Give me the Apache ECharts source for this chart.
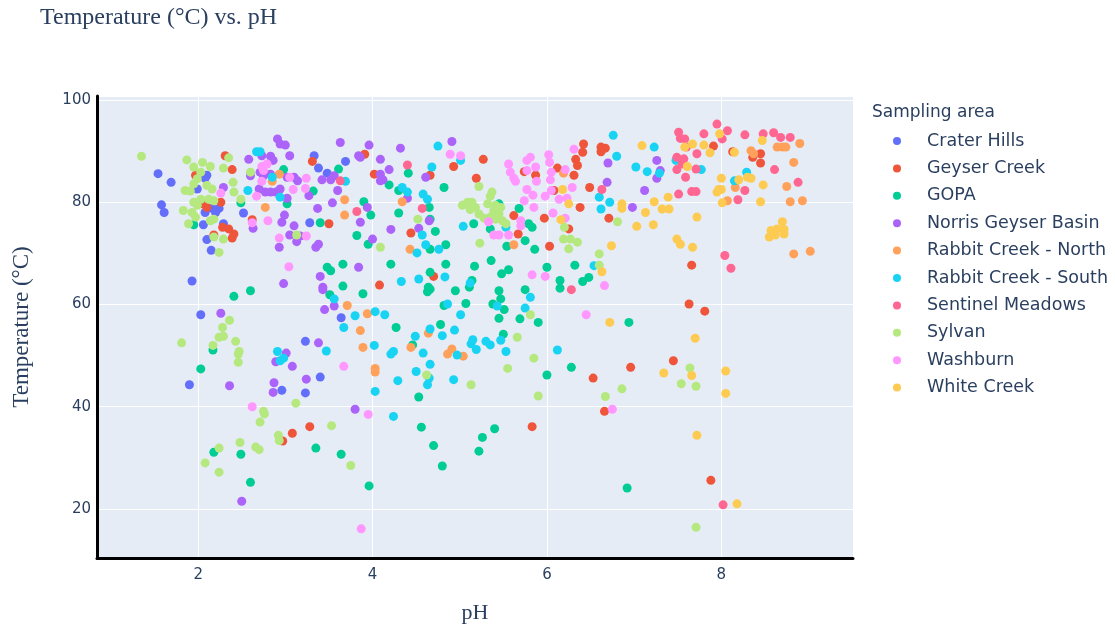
<!DOCTYPE html>
<html>
<head>
<meta charset="utf-8">
<title>Temperature vs. pH</title>
<script src="https://cdn.jsdelivr.net/npm/echarts@6.0.0/dist/echarts.min.js"></script>
<style>
  html, body { margin: 0; padding: 0; background: #fff; }
  #chart { width: 1115px; height: 633px; }
</style>
</head>
<body>
<div id="chart"></div>
<script>
// Sampling areas, in legend / drawing order
const areas = [
  'Crater Hills', 'Geyser Creek', 'GOPA', 'Norris Geyser Basin',
  'Rabbit Creek - North', 'Rabbit Creek - South', 'Sentinel Meadows',
  'Sylvan', 'Washburn', 'White Creek'
];

// Samples per area as [pH, temperature °C]
const craterHills = [[1.54,85.6],[1.69,83.9],[1.58,79.5],[1.61,78.0],[2.10,85.3],[2.08,84.7],[1.99,82.6],[2.07,80.0],[2.16,78.8],[2.24,78.8],[2.20,78.0],[2.08,78.0],[2.52,77.9],[2.06,75.6],[2.29,75.8],[2.10,72.7],[2.15,70.6],[3.33,89.1],[3.38,86.7],[3.48,85.7],[3.69,88.0],[3.28,76.0],[1.93,64.6],[2.03,58.0],[1.90,44.3],[3.64,57.4],[3.23,52.8],[3.40,45.8],[2.96,43.2],[3.23,42.7]];

const geyserCreek = [[2.31,89.1],[2.39,86.4],[1.97,85.3],[2.05,79.7],[2.10,79.0],[2.26,80.0],[2.62,76.6],[2.28,75.1],[2.35,74.8],[2.41,73.8],[2.39,73.0],[2.18,73.6],[3.31,88.0],[3.50,75.8],[3.91,89.4],[4.02,85.5],[4.93,87.0],[5.27,88.4],[5.19,84.7],[4.66,85.3],[5.74,86.0],[5.87,85.3],[6.12,86.7],[6.42,91.4],[6.41,89.8],[6.33,88.4],[6.35,87.2],[6.31,85.3],[6.49,82.9],[6.08,82.3],[5.62,77.4],[5.97,76.9],[6.38,79.0],[6.25,74.8],[5.67,73.8],[4.44,74.0],[6.03,71.4],[6.62,90.8],[6.67,90.6],[6.62,89.9],[7.91,91.0],[8.13,89.9],[8.36,88.8],[8.45,89.5],[8.45,87.7],[6.71,76.9],[4.70,65.5],[4.08,63.8],[6.53,45.6],[7.66,67.7],[7.63,60.1],[7.81,58.7],[7.45,49.0],[6.96,47.7],[6.66,39.1],[2.97,33.3],[3.08,34.8],[3.28,36.1],[5.83,36.1],[7.88,25.6]];

const gopa = [[2.49,79.9],[1.95,75.6],[2.98,86.4],[3.02,79.7],[3.32,82.2],[3.61,86.5],[3.40,76.0],[4.41,85.7],[4.19,83.4],[4.30,82.3],[4.82,82.9],[3.90,80.1],[3.98,77.5],[4.30,77.9],[4.65,79.0],[4.66,76.7],[3.82,73.5],[3.95,71.8],[4.72,74.3],[4.66,70.8],[4.84,71.7],[5.16,75.8],[5.35,74.8],[5.45,79.7],[5.68,78.8],[5.79,75.8],[5.83,75.1],[5.75,72.5],[5.54,71.4],[5.86,70.8],[2.41,61.6],[2.60,62.7],[2.17,51.1],[2.03,47.4],[3.48,67.3],[3.52,66.6],[3.66,67.9],[3.66,63.6],[3.51,61.9],[4.21,67.9],[3.89,62.1],[4.66,66.3],[4.64,63.4],[4.66,63.0],[4.63,62.5],[4.84,67.9],[4.95,62.7],[5.17,67.5],[5.14,64.7],[5.11,63.4],[5.36,68.6],[5.56,66.8],[5.48,66.0],[5.07,60.2],[4.82,59.8],[5.45,62.7],[5.47,61.1],[5.38,60.1],[5.51,59.0],[5.45,57.3],[5.75,62.9],[5.69,57.2],[5.90,56.5],[6.00,67.3],[6.32,67.7],[6.15,64.7],[6.15,63.2],[6.41,64.5],[6.48,65.3],[4.27,55.5],[4.78,56.1],[4.46,52.1],[5.50,54.2],[6.00,46.2],[6.28,47.7],[4.53,41.9],[6.94,56.5],[2.18,31.1],[2.49,30.7],[2.60,25.2],[3.35,31.9],[3.64,30.7],[4.56,36.0],[4.70,32.4],[4.80,28.4],[3.96,24.5],[5.22,31.3],[5.26,34.0],[5.40,35.7],[6.92,24.1]];

const norrisGeyserBasin = [[2.91,92.4],[2.94,91.4],[3.00,91.2],[3.05,89.1],[3.63,91.7],[2.58,88.4],[2.73,89.1],[2.83,89.0],[2.86,88.2],[2.71,85.9],[2.75,85.2],[2.83,85.5],[2.60,85.2],[2.70,82.6],[2.77,82.0],[2.83,82.0],[2.89,82.0],[2.94,82.6],[3.02,84.9],[3.10,84.9],[3.14,84.2],[3.42,84.4],[3.52,84.4],[3.56,85.2],[3.60,82.3],[3.27,81.3],[3.02,80.8],[3.54,79.9],[3.37,78.8],[2.99,77.5],[2.96,76.1],[3.10,75.4],[2.63,74.9],[3.05,73.6],[3.17,73.4],[3.13,72.3],[2.93,71.2],[3.35,71.2],[3.38,71.8],[2.29,82.9],[3.96,91.2],[3.84,89.1],[3.86,88.8],[4.09,88.4],[4.32,90.6],[4.91,91.9],[4.19,86.4],[4.09,85.5],[4.12,84.4],[4.09,84.2],[4.61,84.9],[3.94,79.0],[3.86,76.1],[4.21,74.7],[4.65,76.4],[4.53,74.9],[4.00,72.8],[4.40,80.8],[6.70,87.7],[7.26,88.2],[7.30,86.2],[7.26,84.7],[6.69,83.9],[7.12,82.3],[6.98,79.0],[2.26,58.3],[2.98,64.1],[3.40,65.5],[3.43,63.4],[3.43,62.9],[3.45,59.0],[3.56,59.7],[3.38,52.5],[3.01,50.5],[2.89,48.8],[3.08,47.9],[3.24,45.4],[2.87,44.7],[2.86,42.8],[2.36,44.1],[3.84,67.3],[3.80,39.5],[2.50,21.5]];

const rabbitCreekNorth = [[2.93,85.5],[2.85,84.1],[2.77,79.0],[3.68,80.5],[3.68,77.5],[4.34,80.1],[4.43,70.8],[5.62,71.7],[6.19,85.7],[8.34,90.1],[8.37,89.5],[8.64,90.8],[8.70,90.8],[8.74,90.8],[8.90,91.5],[8.83,87.8],[8.75,83.1],[8.16,82.9],[8.07,80.3],[8.79,80.1],[8.93,80.3],[8.83,69.9],[9.02,70.4],[3.71,59.8],[3.94,58.2],[3.86,54.9],[3.89,51.6],[4.64,54.4],[4.44,51.6],[4.91,51.3],[4.86,50.3],[5.04,49.9],[4.03,47.5],[4.03,46.8]];

const rabbitCreekSouth = [[2.67,89.9],[2.71,89.9],[2.85,84.9],[2.57,82.3],[2.94,81.0],[3.69,84.1],[4.75,91.0],[5.01,88.2],[4.68,86.9],[4.34,82.9],[4.40,82.0],[4.58,81.6],[4.63,80.6],[4.57,73.6],[4.61,71.7],[4.76,70.8],[4.51,70.1],[5.04,75.3],[5.53,75.1],[6.60,81.0],[6.62,78.7],[6.76,93.1],[6.80,89.0],[7.23,90.8],[7.02,86.9],[7.15,86.0],[7.29,85.7],[7.48,88.2],[7.77,86.4],[8.29,85.9],[8.15,84.2],[6.72,80.0],[3.56,61.1],[3.67,55.5],[2.91,50.8],[2.94,49.0],[2.98,49.5],[3.47,50.9],[4.53,65.0],[4.33,64.5],[4.83,65.4],[5.12,64.2],[4.86,60.1],[5.01,58.0],[5.43,59.7],[5.75,59.3],[5.81,61.4],[3.80,57.8],[4.03,58.6],[4.14,58.0],[4.66,55.2],[4.49,53.8],[4.80,53.9],[4.94,55.0],[5.15,53.1],[5.13,52.3],[5.19,51.2],[5.30,52.8],[5.35,52.1],[5.47,53.0],[5.53,50.8],[4.02,52.0],[4.24,50.8],[4.21,50.3],[4.58,50.5],[4.66,48.3],[4.97,50.1],[4.50,46.9],[4.65,45.6],[4.63,44.3],[4.93,45.3],[4.29,45.1],[4.03,43.0],[6.12,51.1],[6.54,67.6],[4.24,38.1]];

const sentinelMeadows = [[3.63,84.2],[4.40,87.3],[3.82,78.2],[4.57,78.8],[6.63,82.5],[7.95,95.3],[7.51,93.7],[7.53,92.5],[7.58,92.4],[7.60,90.8],[7.49,88.8],[7.57,88.5],[7.72,89.5],[7.49,86.4],[7.59,84.9],[7.55,87.5],[7.80,93.4],[8.07,94.0],[8.01,92.4],[8.27,93.2],[8.48,93.4],[8.60,93.6],[8.68,92.7],[8.79,92.7],[7.71,86.5],[8.61,86.4],[8.88,83.9],[8.27,82.3],[7.66,82.1],[7.71,82.1],[7.51,81.6],[8.19,80.5],[6.28,62.9],[8.04,69.6],[8.11,67.1],[8.02,20.8]];

const sylvan = [[1.35,89.0],[1.87,88.3],[1.95,86.9],[2.05,87.8],[2.14,87.0],[2.03,85.9],[1.99,84.6],[1.95,83.6],[1.85,82.3],[1.91,82.2],[2.10,83.3],[2.16,82.6],[2.35,88.7],[2.29,86.7],[2.40,83.9],[2.41,82.0],[1.95,80.0],[1.99,79.4],[2.03,80.6],[2.12,80.6],[2.18,80.3],[1.83,78.4],[1.93,78.0],[1.97,77.1],[2.14,76.4],[2.18,76.7],[1.89,75.8],[2.49,80.6],[2.60,85.9],[2.29,72.8],[2.18,73.2],[2.24,70.2],[3.13,73.6],[5.22,83.1],[5.37,82.0],[5.35,81.2],[5.03,79.4],[5.09,80.0],[5.14,80.0],[5.18,79.0],[5.12,78.6],[5.32,79.7],[5.41,79.4],[5.47,79.0],[5.39,78.4],[5.45,77.7],[5.35,77.1],[5.41,76.7],[5.49,76.4],[5.53,75.8],[5.22,77.7],[5.28,76.9],[4.52,76.7],[5.23,72.0],[4.09,71.2],[6.20,75.1],[6.19,72.8],[6.27,72.8],[6.35,72.2],[6.25,70.9],[6.60,69.9],[6.81,76.2],[1.81,52.5],[2.36,56.9],[2.28,55.5],[2.24,53.6],[2.29,53.8],[2.17,52.0],[2.43,52.8],[2.47,50.8],[2.46,50.3],[2.46,48.7],[3.12,40.7],[2.75,39.1],[5.81,58.0],[5.66,53.6],[5.85,49.5],[5.55,47.5],[5.13,44.3],[5.90,42.1],[4.62,46.2],[6.60,67.7],[7.64,47.6],[7.54,44.5],[7.71,44.0],[6.86,43.5],[6.67,42.0],[2.76,38.6],[2.71,37.0],[2.24,31.9],[2.08,29.0],[2.24,27.2],[2.48,33.0],[2.66,32.1],[2.70,31.6],[2.92,34.4],[2.93,33.4],[3.53,36.3],[3.75,28.5],[7.71,16.4]];

const washburn = [[2.73,87.0],[2.79,87.5],[2.75,86.2],[2.73,84.1],[3.05,84.9],[3.24,84.7],[3.09,82.5],[3.23,82.7],[2.26,81.8],[2.67,81.2],[2.80,76.4],[2.62,76.0],[2.93,73.0],[3.24,73.4],[4.89,89.4],[5.01,89.1],[5.56,87.5],[5.58,85.9],[5.62,84.7],[5.64,84.1],[5.77,88.2],[5.81,88.8],[5.77,86.2],[5.87,86.9],[5.88,84.1],[6.02,89.3],[6.03,87.8],[6.05,85.9],[6.04,84.4],[6.21,86.4],[6.31,90.4],[6.29,82.9],[5.77,82.5],[5.84,81.4],[5.74,80.3],[5.98,81.2],[6.05,82.3],[6.14,80.6],[6.23,80.8],[5.85,79.0],[6.07,77.9],[6.21,76.9],[5.70,76.4],[5.70,75.4],[5.33,76.2],[5.39,73.6],[5.45,73.6],[5.56,73.6],[3.04,67.4],[3.67,47.9],[2.62,40.0],[5.83,65.8],[5.98,65.5],[6.45,58.0],[6.66,63.7],[6.75,39.5],[3.95,38.5],[3.87,16.1]];

const whiteCreek = [[6.18,82.5],[6.25,79.7],[6.16,76.6],[7.09,91.1],[7.58,90.8],[7.67,91.4],[7.80,91.2],[7.87,89.7],[7.98,93.4],[8.15,89.8],[8.47,92.1],[7.61,87.0],[8.00,84.7],[8.20,84.4],[8.30,84.9],[8.34,84.7],[8.48,83.4],[7.97,82.5],[7.95,82.0],[8.00,82.5],[8.01,79.9],[8.45,80.1],[7.23,80.1],[7.39,81.0],[6.86,79.7],[6.86,78.8],[7.32,78.7],[7.40,78.7],[7.13,78.0],[7.72,77.1],[7.03,75.3],[7.22,75.6],[7.49,72.8],[7.53,71.8],[7.67,71.2],[6.74,71.5],[8.70,76.2],[8.57,74.5],[8.64,74.8],[8.72,74.7],[8.62,73.6],[8.55,73.2],[8.72,73.8],[6.63,66.4],[6.72,56.5],[7.70,53.4],[7.34,46.6],[7.66,46.1],[8.05,47.0],[8.05,42.6],[7.72,34.4],[8.18,21.0]];

const areaData = [
  craterHills, geyserCreek, gopa, norrisGeyserBasin, rabbitCreekNorth,
  rabbitCreekSouth, sentinelMeadows, sylvan, washburn, whiteCreek
];

const palette = ['#636EFA', '#EF553B', '#00CC96', '#AB63FA', '#FFA15A',
                 '#19D3F3', '#FF6692', '#B6E880', '#FF97FF', '#FECB52'];

const inkColor = '#2a3f5f';
const serif = '"Liberation Serif", "Times New Roman", serif';
const sans = '"DejaVu Sans", Verdana, sans-serif';

const chart = echarts.init(document.getElementById('chart'), null, { renderer: 'canvas' });

chart.setOption({
  animation: false,
  backgroundColor: '#ffffff',
  color: palette,
  title: [
    {
      text: 'Temperature (°C) vs. pH',
      left: 40,
      top: 6,
      padding: 0,
      textStyle: { fontFamily: serif, fontSize: 24, fontWeight: 'normal', color: inkColor }
    },
    {
      text: 'Sampling area',
      left: 872,
      top: 104,
      padding: 0,
      textStyle: { fontFamily: sans, fontSize: 17, fontWeight: 'normal', color: inkColor }
    }
  ],
  legend: {
    orient: 'vertical',
    left: 888,
    top: 126,
    itemWidth: 50,
    itemHeight: 8,
    itemGap: 7.4,
    icon: 'circle',
    data: areas,
    textStyle: { fontFamily: sans, fontSize: 17.5, color: inkColor, lineHeight: 20 }
  },
  grid: {
    left: 97,
    top: 96,
    width: 756,
    height: 462,
    show: true,
    backgroundColor: '#E5ECF6',
    borderWidth: 0
  },
  xAxis: {
    type: 'value',
    min: 0.84,
    max: 9.51,
    splitNumber: 5,
    name: 'pH',
    nameLocation: 'middle',
    nameGap: 44,
    nameTextStyle: { fontFamily: serif, fontSize: 22, color: inkColor },
    axisLine: { show: true, onZero: false, lineStyle: { color: '#000', width: 3 } },
    axisTick: { show: false },
    axisLabel: {
      showMinLabel: false, showMaxLabel: false, margin: 10,
      fontFamily: sans, fontSize: 15, color: inkColor
    },
    splitLine: { show: true, lineStyle: { color: '#ffffff', width: 1 } }
  },
  yAxis: {
    type: 'value',
    min: 10.4,
    max: 100.8,
    splitNumber: 5,
    name: 'Temperature (°C)',
    nameLocation: 'middle',
    nameGap: 64,
    nameTextStyle: { fontFamily: serif, fontSize: 23, color: inkColor },
    axisLine: { show: true, onZero: false, lineStyle: { color: '#000', width: 3 } },
    axisTick: { show: false },
    axisLabel: {
      showMinLabel: false, showMaxLabel: false, margin: 6,
      fontFamily: sans, fontSize: 15, color: inkColor
    },
    splitLine: { show: true, lineStyle: { color: '#ffffff', width: 1 } }
  },
  series: areas.map((name, i) => ({
    name: name,
    type: 'scatter',
    data: areaData[i],
    symbol: 'circle',
    symbolSize: 9,
    itemStyle: { color: palette[i], opacity: 1 },
    emphasis: { disabled: true }
  }))
});
</script>
</body>
</html>
